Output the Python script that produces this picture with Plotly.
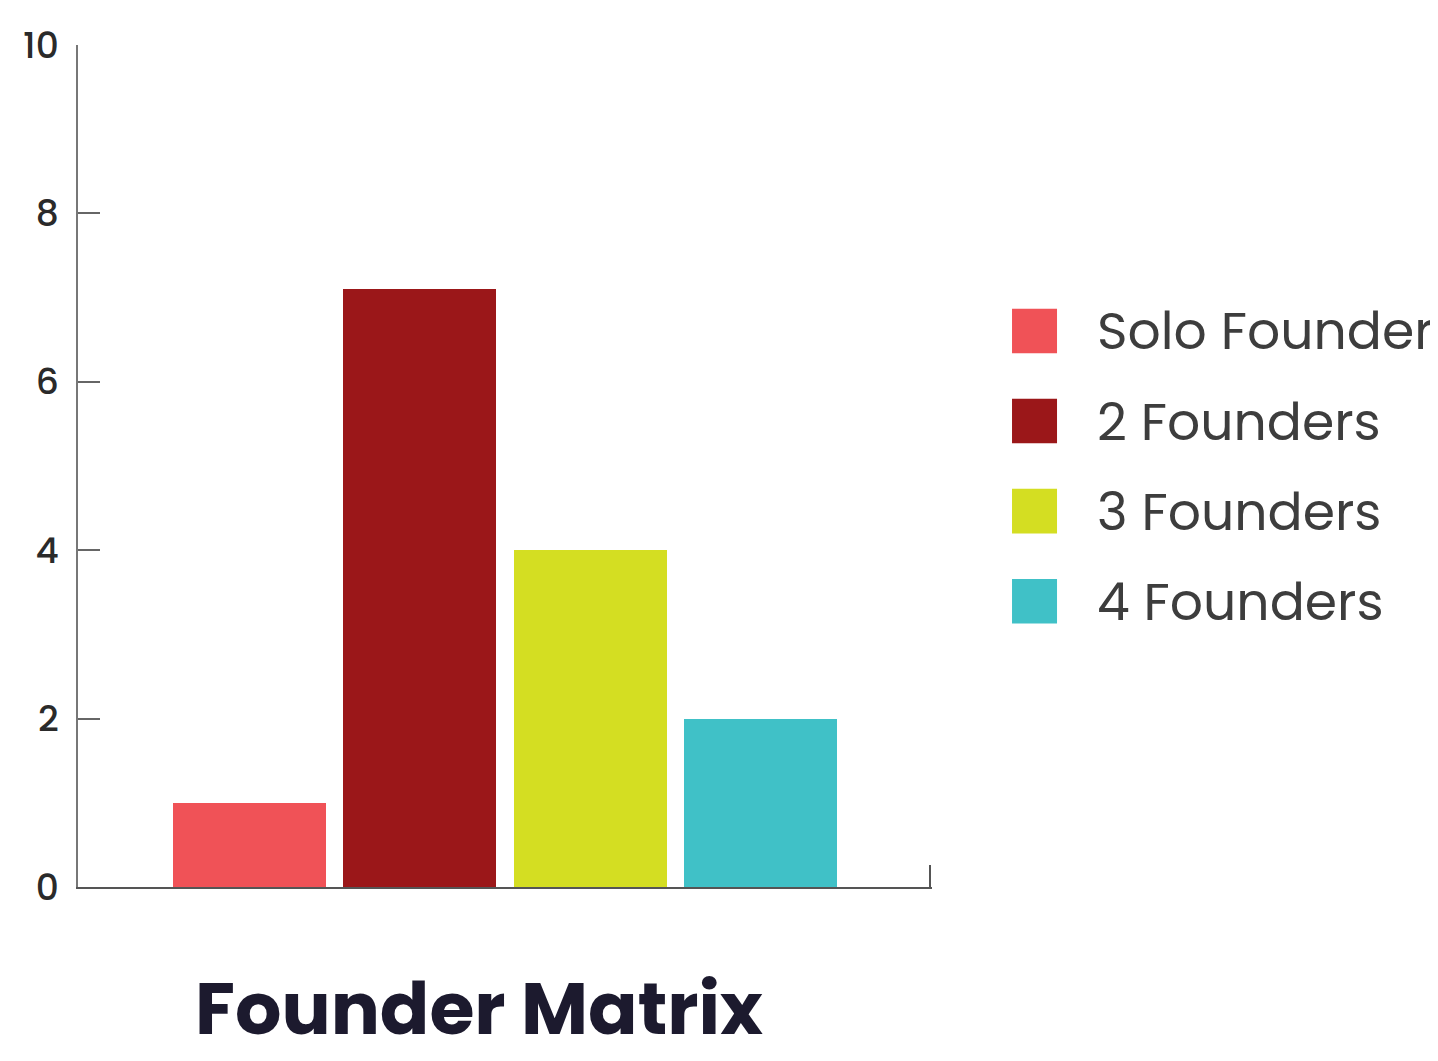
import plotly.graph_objects as go

categories = ["Solo Founder", "2 Founders", "3 Founders", "4 Founders"]
values = [1, 7.1, 4, 2]
colors = ["#F05257", "#9B1719", "#D4DE22", "#40C1C7"]
y_ticks = [0, 2, 4, 6, 8, 10]
title_text = "Founder Matrix"

FONT = "Poppins, Open Sans, Lato, sans-serif"

fig = go.Figure()
positions = list(range(len(categories)))
for pos, cat, val, col in zip(positions, categories, values, colors):
    fig.add_trace(go.Bar(
        x=[pos], y=[val], name=cat, width=0.9,
        marker=dict(color=col, line=dict(width=0)),
        showlegend=False,
    ))

# custom legend (large swatches), built from the category arrays
shapes = []
annotations = []
top_y = 0.6604
step = 0.107
sw_h = 0.0529
for i, (cat, col) in enumerate(zip(categories, colors)):
    yc = top_y - i * step
    shapes.append(dict(type="rect", xref="paper", yref="paper",
                       x0=1.0937, x1=1.1464, y0=yc - sw_h / 2, y1=yc + sw_h / 2,
                       fillcolor=col, line=dict(width=0)))
    annotations.append(dict(xref="paper", yref="paper", x=1.1909, y=yc,
                            xanchor="left", yanchor="middle", showarrow=False,
                            text=cat, font=dict(family=FONT, size=52, color="#3d3d3d")))

annotations.append(dict(xref="paper", yref="paper", x=0.4696, y=-0.1445,
                        xanchor="center", yanchor="middle", showarrow=False,
                        text="<b>" + title_text + "</b>",
                        font=dict(family=FONT, size=73, color="#1C1A2E")))

fig.update_layout(
    width=1430, height=1053,
    margin=dict(l=70, r=506, t=28, b=174),
    paper_bgcolor="white", plot_bgcolor="white",
    bargap=0, barmode="overlay",
    shapes=shapes, annotations=annotations,
    showlegend=False,
)
fig.update_xaxes(range=[-1.01, 4.01], showline=True, linecolor="#555555", linewidth=2,
                 showgrid=False, zeroline=False, ticks="inside", ticklen=22,
                 tickcolor="#555555", tickwidth=2, tickvals=[4.0], showticklabels=False)
fig.update_yaxes(range=[0, 10], tickvals=y_ticks, showline=True, linecolor="#777777",
                 linewidth=2, showgrid=False, zeroline=False, ticks="inside", ticklen=22,
                 tickcolor="#666666", tickwidth=2, ticklabelstandoff=10,
                 tickfont=dict(family=FONT, size=36, color="#2a2a2a", weight=500))

fig.write_html("out.html")
